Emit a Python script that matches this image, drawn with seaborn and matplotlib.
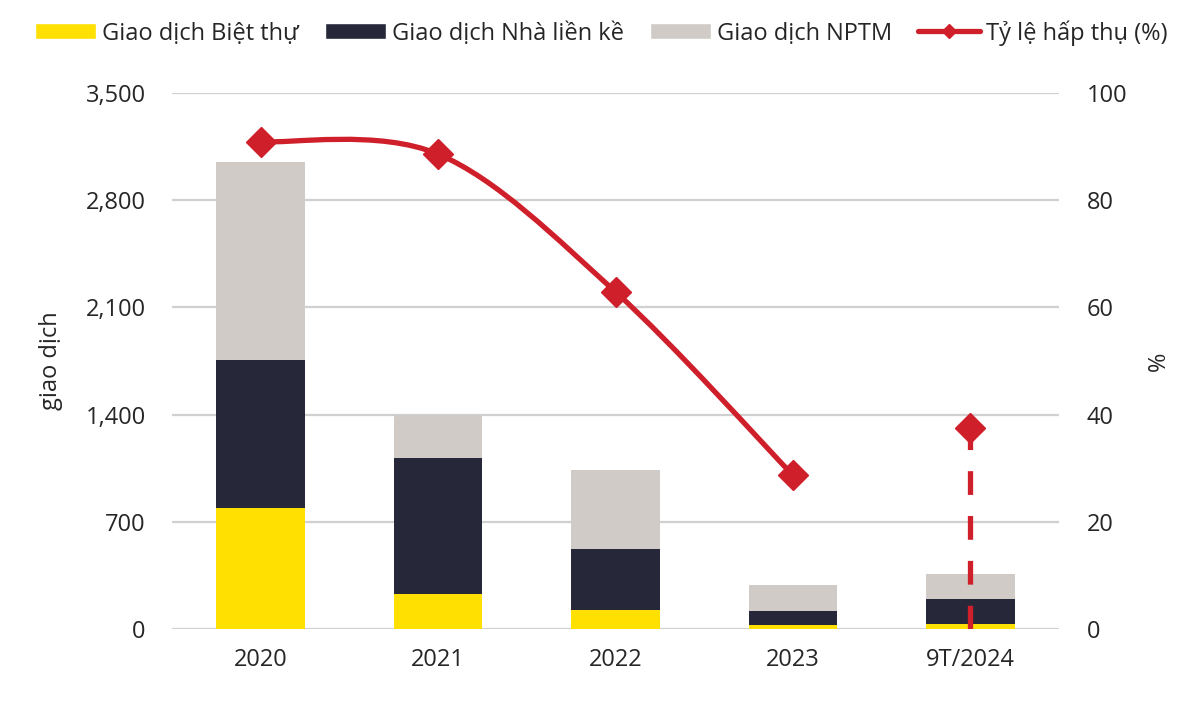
import numpy as np
import pandas as pd
import seaborn as sns
import matplotlib.pyplot as plt
from matplotlib.path import Path
from matplotlib.patches import PathPatch, Patch
from matplotlib.lines import Line2D

years = ['2020', '2021', '2022', '2023', '9T/2024']
biet_thu = [790, 229, 124, 26, 33]
lien_ke = [967, 888, 398, 92, 163]
nptm = [1293, 280, 516, 169, 163]
ty_le = [90.9, 88.6, 62.9, 28.7, 37.5]

c_yellow = '#FFE000'
c_navy = '#262839'
c_gray = '#D0CBC7'
c_red = '#CF1F2A'
fs = 17

sns.set_theme(style='white')
plt.rcParams['font.family'] = ['Open Sans', 'DejaVu Sans']

df = pd.DataFrame({'year': years, 'bt': biet_thu, 'lk': lien_ke, 'np': nptm})
df['s1'] = df['bt']
df['s2'] = df['bt'] + df['lk']
df['s3'] = df['s2'] + df['np']

fig = plt.figure(figsize=(11.91, 7.05), dpi=100)
ax = fig.add_axes([172 / 1191, 1 - 629 / 705, (1059 - 172) / 1191, 536 / 705])

# stacked bars drawn as overlaid cumulative totals
for col, color in [('s3', c_gray), ('s2', c_navy), ('s1', c_yellow)]:
    sns.barplot(data=df, x='year', y=col, color=color, width=0.5,
                saturation=1, ax=ax, edgecolor='none', linewidth=0)

ax.set_ylim(0, 3500)
ax.set_yticks(np.arange(0, 3501, 700))
ax.set_yticklabels([f'{v:,}' for v in range(0, 3501, 700)])
ax.set_xlim(-0.5, 4.5)
ax.yaxis.grid(True, color='#D0D0D0', linewidth=1.6)
ax.set_axisbelow(True)
for s in ax.spines.values():
    s.set_visible(False)
ax.set_xlabel('')
ax.set_ylabel('giao dịch', fontsize=fs, labelpad=16)
ax.tick_params(axis='both', labelsize=fs, length=0)
ax.tick_params(axis='x', pad=14)
ax.tick_params(axis='y', pad=19)

ax2 = ax.twinx()
ax2.set_ylim(0, 100)
ax2.set_yticks(range(0, 101, 20))
for s in ax2.spines.values():
    s.set_visible(False)
ax2.tick_params(axis='y', labelsize=fs, length=0, pad=20)
ax2.set_ylabel('%', fontsize=fs, labelpad=14)
ax2.grid(False)

# smoothed line 2020-2023 (Catmull-Rom style bezier through the points)
xs = np.arange(4, dtype=float)
ys = np.array(ty_le[:4])
pts = np.column_stack([xs, ys])
ext = np.vstack([pts[0], pts, pts[-1]])
verts = [tuple(pts[0])]
codes = [Path.MOVETO]
for i in range(len(pts) - 1):
    p0, p1, p2, p3 = ext[i], ext[i + 1], ext[i + 2], ext[i + 3]
    c1 = p1 + (p2 - p0) / 6
    c2 = p2 - (p3 - p1) / 6
    verts += [tuple(c1), tuple(c2), tuple(p2)]
    codes += [Path.CURVE4] * 3
ax2.add_patch(PathPatch(Path(verts, codes), facecolor='none',
                        edgecolor=c_red, linewidth=3.8, capstyle='round'))
ax2.plot(xs, ys, linestyle='none', marker='D', markersize=15, color=c_red)

# dashed line for 9T/2024
ax2.plot([4, 4], [0, ty_le[4]], color=c_red, linewidth=3.8,
         linestyle=(0, (4.5, 4.0)))
ax2.plot([4], [ty_le[4]], marker='D', markersize=15, color=c_red,
         linestyle='none')

handles = [
    Patch(facecolor=c_yellow, label='Giao dịch Biệt thự'),
    Patch(facecolor=c_navy, label='Giao dịch Nhà liền kề'),
    Patch(facecolor=c_gray, label='Giao dịch NPTM'),
    Line2D([0], [0], color=c_red, linewidth=3.8, marker='D', markersize=7,
           label='Tỷ lệ hấp thụ (%)'),
]
fig.legend(handles=handles, loc='upper center', bbox_to_anchor=(0.5045, 1.0),
           ncol=4, frameon=False, fontsize=fs, handlelength=2.6,
           handleheight=0.65, handletextpad=0.25, columnspacing=1.1,
           borderaxespad=0.45)

fig.savefig('out.png', dpi=100)
